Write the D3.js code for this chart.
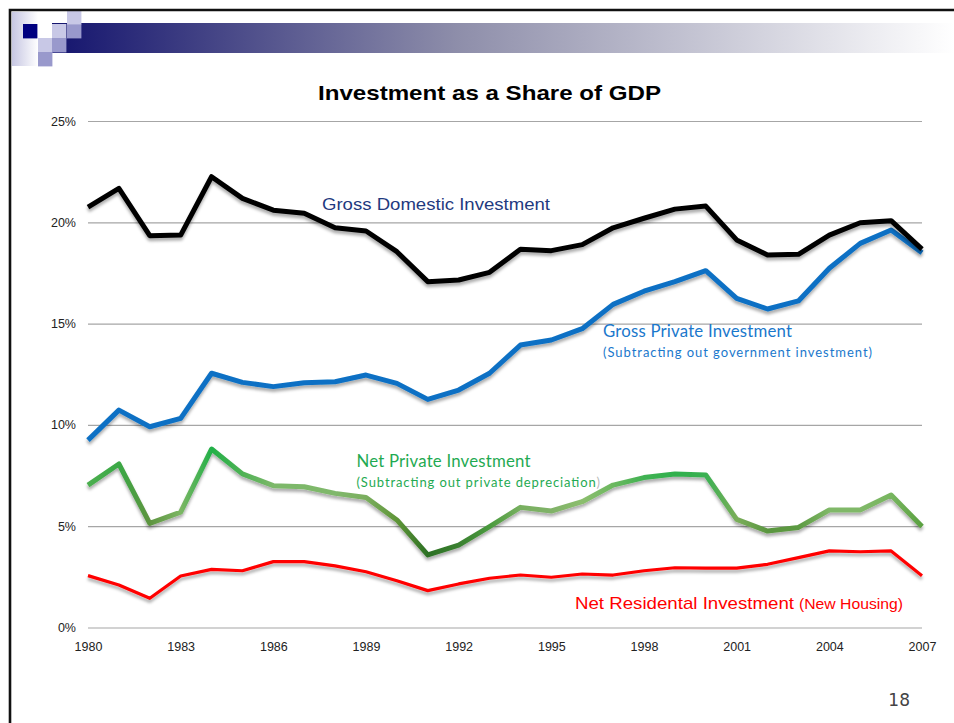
<!DOCTYPE html>
<html>
<head>
<meta charset="utf-8">
<script src="https://cdn.jsdelivr.net/npm/d3@7"></script>
<style>
  body { margin: 0; background: #fff; }
  svg { display: block; }
</style>
</head>
<body>
<div id="chart"></div>
<script>
// data (percent of GDP)
const years = d3.range(1980, 2008);
const xTickYears = [1980, 1983, 1986, 1989, 1992, 1995, 1998, 2001, 2004, 2007];
const yTicks = [0, 5, 10, 15, 20, 25];

const grossDomestic = [20.75, 21.67, 19.34, 19.37, 22.25, 21.18, 20.6, 20.45, 19.73, 19.57,
  18.55, 17.07, 17.15, 17.53, 18.67, 18.6, 18.9, 19.73, 20.2, 20.65,
  20.8, 19.13, 18.39, 18.42, 19.37, 19.98, 20.08, 18.68];
const grossPrivate = [9.25, 10.73, 9.91, 10.32, 12.55, 12.1, 11.89, 12.08, 12.13, 12.46,
  12.05, 11.26, 11.72, 12.55, 13.94, 14.19, 14.75, 15.95, 16.6, 17.07,
  17.61, 16.25, 15.72, 16.12, 17.73, 18.96, 19.62, 18.5];
const netPrivate = [7.03, 8.07, 5.14, 5.69, 8.81, 7.58, 7.0, 6.95, 6.62, 6.42,
  5.31, 3.58, 4.07, 4.98, 5.93, 5.75, 6.21, 7.03, 7.4, 7.58,
  7.53, 5.34, 4.76, 4.94, 5.8, 5.8, 6.54, 4.98];
const netResidential = [2.56, 2.1, 1.44, 2.54, 2.87, 2.8, 3.25, 3.25, 3.04, 2.75,
  2.31, 1.82, 2.15, 2.43, 2.59, 2.48, 2.64, 2.59, 2.8, 2.95,
  2.93, 2.93, 3.12, 3.45, 3.78, 3.74, 3.78, 2.56];

// shading of the green line, one colour per year
const greenShades = ["#4caf50", "#3aa845", "#5e9440", "#7cb664", "#22b048", "#4fb255", "#7db86a", "#7db86a", "#80b86c", "#7aae5e",
  "#5f9538", "#2c7024", "#3a8030", "#4a9a3e", "#78b060", "#80b268", "#8cbe6e", "#6cb860", "#40b252", "#30b04e",
  "#3bb052", "#7aae5a", "#5a9640", "#5c9a42", "#80b868", "#80b868", "#78b660", "#5aa040"];

const W = 954, H = 723;
const margin = {left: 88, right: 32, top: 121, bottom: 95.5};

const svg = d3.select("#chart").append("svg")
  .attr("width", W)
  .attr("height", H);

const defs = svg.append("defs");

// slide header: gradient bar + little squares
const barGrad = defs.append("linearGradient").attr("id", "barGrad");
barGrad.append("stop").attr("offset", "0%").attr("stop-color", "#14146e");
barGrad.append("stop").attr("offset", "45%").attr("stop-color", "#8e8eaa");
barGrad.append("stop").attr("offset", "100%").attr("stop-color", "#ffffff");

const sideGrad = defs.append("linearGradient").attr("id", "sideGrad");
sideGrad.append("stop").attr("offset", "0%").attr("stop-color", "#c6c6e2");
sideGrad.append("stop").attr("offset", "100%").attr("stop-color", "#ffffff");

const shadow = defs.append("filter").attr("id", "shadow")
  .attr("x", "-5%").attr("y", "-20%").attr("width", "110%").attr("height", "160%");
shadow.append("feDropShadow")
  .attr("dx", 0).attr("dy", 3).attr("stdDeviation", 1.4)
  .attr("flood-color", "#000").attr("flood-opacity", 0.32);

const hdr = svg.append("g").attr("class", "header");
hdr.append("rect").attr("x", 12).attr("y", 12).attr("width", 26).attr("height", 54).attr("fill", "url(#sideGrad)");
hdr.append("rect").attr("x", 52).attr("y", 23).attr("width", W - 52).attr("height", 30).attr("fill", "url(#barGrad)");
const sq = 14.4;
[
  [23, 24, "#000080"], [38, 24, "#ffffff"], [52, 24, "#c8c8e6"], [67, 24, "#9999cc"], [67, 10, "#c8c8e6"],
  [38, 38, "#c8c8e6"], [52, 38, "#9999cc"], [38, 52, "#9999cc"]
].forEach(function(s){
  hdr.append("rect").attr("x", s[0]).attr("y", s[1]).attr("width", sq).attr("height", sq).attr("fill", s[2]);
});
// slide frame (top + left)
svg.append("path")
  .attr("d", "M10," + H + "V10H" + W)
  .attr("fill", "none")
  .attr("stroke", "#111")
  .attr("stroke-width", 2.6);

// scales
const x = d3.scaleLinear().domain([1980, 2007]).range([margin.left, W - margin.right]);
const y = d3.scaleLinear().domain([0, 25]).range([H - margin.bottom, margin.top]);

const g = svg.append("g").attr("class", "plot");

// gridlines + y labels
const yAxis = g.append("g")
  .attr("transform", "translate(" + margin.left + ",0)")
  .call(d3.axisLeft(y).tickValues(yTicks).tickSize(-(W - margin.left - margin.right)).tickPadding(12)
    .tickFormat(function(d){ return d + "%"; }));
yAxis.select(".domain").remove();
yAxis.selectAll("line").attr("stroke", "#a6a6a6").attr("stroke-width", 1.2);
yAxis.selectAll("text").attr("fill", "#222")
  .style("font-family", "'Liberation Sans', Arial, sans-serif").style("font-size", "12.5px");

const xAxis = g.append("g")
  .attr("transform", "translate(0," + (H - margin.bottom) + ")")
  .call(d3.axisBottom(x).tickValues(xTickYears).tickSize(0).tickPadding(15).tickFormat(d3.format("d")));
xAxis.select(".domain").remove();
xAxis.selectAll("text").attr("fill", "#222")
  .style("font-family", "'Liberation Sans', Arial, sans-serif").style("font-size", "12.5px");

// green gradient along x
const greenGrad = defs.append("linearGradient").attr("id", "greenGrad")
  .attr("gradientUnits", "userSpaceOnUse")
  .attr("x1", x(1980)).attr("x2", x(2007)).attr("y1", 0).attr("y2", 0);
greenShades.forEach(function(c, i){
  greenGrad.append("stop").attr("offset", (i / (greenShades.length - 1) * 100) + "%").attr("stop-color", c);
});

const line = d3.line()
  .x(function(d, i){ return x(years[i]); })
  .y(function(d){ return y(d); });

const series = [
  {vals: netResidential, color: "#ff0000", width: 3.2},
  {vals: netPrivate, color: "url(#greenGrad)", width: 5},
  {vals: grossPrivate, color: "#0a70c4", width: 5},
  {vals: grossDomestic, color: "#000000", width: 5}
];

g.selectAll(".series")
  .data(series)
  .enter().append("path")
  .attr("class", "series")
  .attr("d", function(d){ return line(d.vals); })
  .attr("fill", "none")
  .attr("stroke", function(d){ return d.color; })
  .attr("stroke-width", function(d){ return d.width; })
  .attr("stroke-linejoin", "round")
  .attr("filter", "url(#shadow)");

const arial = "'Liberation Sans', Arial, sans-serif";
const calibriLike = "Lato, 'Open Sans', sans-serif";

// title
svg.append("text")
  .attr("x", 318).attr("y", 100)
  .style("font-family", arial).style("font-size", "21px").style("font-weight", "bold")
  .attr("textLength", 343).attr("lengthAdjust", "spacingAndGlyphs")
  .attr("fill", "#000")
  .text("Investment as a Share of GDP");

// annotations
svg.append("text")
  .attr("x", 322).attr("y", 210)
  .style("font-family", arial).style("font-size", "17px")
  .attr("textLength", 228).attr("lengthAdjust", "spacingAndGlyphs")
  .attr("fill", "#1f3a80")
  .text("Gross Domestic Investment");

const gp = svg.append("text").attr("x", 603).attr("y", 337)
  .style("font-family", calibriLike).attr("fill", "#1a78cc");
gp.append("tspan").style("font-size", "16.8px").attr("textLength", 189).text("Gross Private Investment");
gp.append("tspan").attr("x", 603).attr("dy", 20).style("font-size", "13px").attr("textLength", 269)
  .text("(Subtracting out government investment)");

const np = svg.append("text").attr("x", 356.5).attr("y", 467)
  .style("font-family", calibriLike).attr("fill", "#1faa52");
np.append("tspan").style("font-size", "16.8px").attr("textLength", 174).text("Net Private Investment");
np.append("tspan").attr("x", 356.5).attr("dy", 20).style("font-size", "13px").attr("textLength", 239)
  .text("(Subtracting out private depreciation");
np.append("tspan").style("font-size", "13px").attr("fill", "#bbbbbb").text(")");

const nr = svg.append("text").attr("y", 609)
  .style("font-family", arial).attr("fill", "#ff0000");
nr.append("tspan").attr("x", 575).style("font-size", "17px")
  .attr("textLength", 219).attr("lengthAdjust", "spacingAndGlyphs").text("Net Residental Investment");
nr.append("tspan").attr("x", 799).style("font-size", "15px")
  .attr("textLength", 104).attr("lengthAdjust", "spacingAndGlyphs").text("(New Housing)");

// slide number
svg.append("text")
  .attr("x", 910).attr("y", 706)
  .attr("text-anchor", "end")
  .style("font-family", "'DejaVu Sans', sans-serif").style("font-size", "17px")
  .attr("fill", "#444")
  .text("18");
</script>
</body>
</html>
